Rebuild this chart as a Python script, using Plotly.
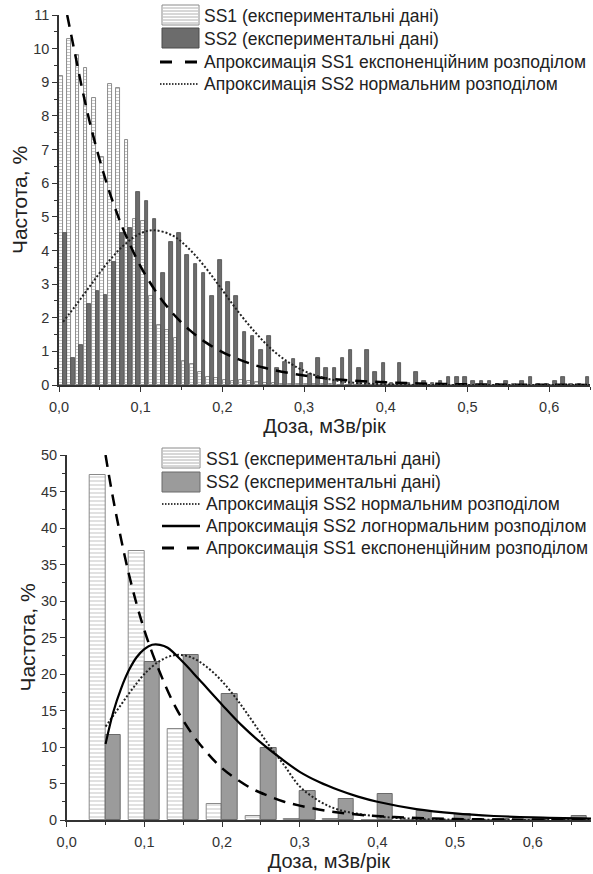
import plotly.graph_objects as go

# ---------------- TOP CHART DATA ----------------
top_bin_start = [round(0.01 * i, 2) for i in range(65)]
top_ss1 = [9.2, 10.3, 9.82, 9.42, 8.52, 6.78, 8.96, 8.82, 7.27, 4.93,
           4.87, 2.66, 1.78, 1.64, 1.39, 0.70, 0.61, 0.39, 0.25, 0.21,
           0.16, 0.13, 0.15, 0.11, 0.08, 0.06, 0.05, 0.04, 0.03, 0.03,
           0.02, 0.02, 0.02, 0.02, 0.01, 0.01, 0.01, 0.01, 0.01, 0.01,
           0.0, 0.0, 0.0, 0.0, 0.0, 0.0, 0.0, 0.0, 0.0, 0.0,
           0.0, 0.0, 0.0, 0.0, 0.0, 0.0, 0.0, 0.0, 0.0, 0.0,
           0.0, 0.0, 0.0, 0.0, 0.0]
top_ss2 = [4.53, 0.79, 1.19, 2.41, 2.80, 2.67, 3.66, 4.53, 4.67, 5.74,
           5.47, 4.93, 3.33, 4.26, 4.53, 3.86, 3.60, 3.34, 2.65, 3.73,
           3.07, 2.65, 1.58, 1.46, 1.05, 1.46, 0.50, 0.69, 0.77, 0.64,
           0.32, 0.79, 0.50, 0.50, 0.79, 1.05, 0.50, 1.05, 0.40, 0.64,
           0.07, 0.64, 0.05, 0.39, 0.12, 0.05, 0.12, 0.25, 0.25, 0.25,
           0.12, 0.12, 0.12, 0.03, 0.12, 0.03, 0.12, 0.25, 0.03, 0.03,
           0.12, 0.25, 0.03, 0.03, 0.25]

top_exp_x = [0.01, 0.02, 0.03, 0.04, 0.05, 0.06, 0.07, 0.08, 0.10, 0.12,
             0.14, 0.16, 0.18, 0.20, 0.22, 0.25, 0.30, 0.35, 0.40, 0.45,
             0.50, 0.55, 0.60, 0.65]
top_exp_y = [11.0, 9.8, 8.62, 7.58, 6.68, 5.87, 5.17, 4.55, 3.52, 2.73,
             2.11, 1.63, 1.26, 0.98, 0.76, 0.52, 0.28, 0.15, 0.08, 0.04,
             0.02, 0.01, 0.01, 0.0]

top_norm_x = [0.005, 0.02, 0.04, 0.06, 0.08, 0.10, 0.117, 0.14, 0.16, 0.18,
              0.20, 0.22, 0.24, 0.26, 0.28, 0.30, 0.32, 0.34, 0.36, 0.40,
              0.45, 0.50, 0.55, 0.60, 0.65]
top_norm_y = [1.88, 2.35, 3.01, 3.65, 4.17, 4.51, 4.60, 4.43, 4.03, 3.47,
              2.82, 2.16, 1.57, 1.07, 0.69, 0.42, 0.24, 0.13, 0.07, 0.02,
              0.0, 0.0, 0.0, 0.0, 0.0]

# ---------------- BOTTOM CHART DATA ----------------
bot_bin_center = [0.05, 0.10, 0.15, 0.20, 0.25, 0.30, 0.35, 0.40, 0.45, 0.50,
                  0.55, 0.60, 0.65]
bot_ss1 = [47.3, 36.8, 12.4, 2.2, 0.55, 0.2, 0.1, 0.0, 0.0, 0.0, 0.0, 0.0, 0.0]
bot_ss2 = [11.7, 21.7, 22.6, 17.2, 9.8, 4.0, 2.9, 3.6, 1.25, 0.8, 0.1, 0.15, 0.55]

bot_norm_x = [0.05, 0.06, 0.07, 0.08, 0.09, 0.10, 0.12, 0.14, 0.16, 0.18,
              0.20, 0.22, 0.24, 0.26, 0.28, 0.30, 0.325, 0.35, 0.40, 0.45,
              0.50, 0.60, 0.675]
bot_norm_y = [12.8, 14.3, 15.8, 17.3, 18.7, 20.0, 21.8, 22.6, 22.3, 21.0,
              19.0, 16.4, 13.4, 10.3, 7.5, 4.6, 2.6, 1.4, 0.5, 0.15,
              0.05, 0.0, 0.0]

bot_logn_x = [0.05, 0.06, 0.07, 0.08, 0.09, 0.10, 0.11, 0.12, 0.13, 0.15,
              0.17, 0.20, 0.225, 0.25, 0.275, 0.30, 0.325, 0.35, 0.375, 0.40,
              0.45, 0.50, 0.55, 0.60, 0.675]
bot_logn_y = [10.4, 14.8, 18.0, 20.5, 22.3, 23.4, 24.0, 24.0, 23.6, 21.6,
              19.3, 15.8, 13.0, 10.6, 8.5, 6.6, 5.2, 4.1, 3.2, 2.5,
              1.5, 0.9, 0.55, 0.35, 0.2]

bot_exp_x = [0.05, 0.06, 0.08, 0.10, 0.12, 0.14, 0.16, 0.18, 0.20, 0.22,
             0.24, 0.26, 0.28, 0.30, 0.34, 0.38, 0.42, 0.46, 0.50, 0.55,
             0.60, 0.675]
bot_exp_y = [50.0, 43.9, 33.7, 26.0, 20.2, 15.5, 12.0, 9.3, 7.1, 5.5,
             4.2, 3.3, 2.5, 1.97, 1.16, 0.69, 0.41, 0.24, 0.14, 0.07,
             0.04, 0.02]

labels_top = ["SS1 (експериментальні дані)", "SS2 (експериментальні дані)",
              "Апроксимація SS1 експоненційним розподілом",
              "Апроксимація SS2 нормальним розподілом"]
labels_bot = ["SS1 (експериментальні дані)", "SS2 (експериментальні дані)",
              "Апроксимація SS2 нормальним розподілом",
              "Апроксимація SS2 логнормальним розподілом",
              "Апроксимація SS1 експоненційним розподілом"]

W, H = 593, 874
FONT = "Liberation Sans, Arial, sans-serif"

HATCH_FILL = dict(shape="-", fgcolor="#8f8f8f", bgcolor="white", size=3, solidity=0.35)
SS2_TOP_COLOR, SS2_TOP_EDGE = "#6c6c6c", "#4a4a4a"
SS2_BOT_COLOR, SS2_BOT_EDGE = "#9b9b9b", "#6a6a6a"
DASH = "12px,8px"
DOT = "2px,2px"

fig = go.Figure()

top_centers = [b + 0.005 for b in top_bin_start]

fig.add_trace(go.Bar(
    x=top_centers, y=top_ss1, offset=-0.0047, width=0.0044,
    marker=dict(color="white", line=dict(color="#808080", width=0.9), pattern=HATCH_FILL),
    name=labels_top[0], xaxis="x", yaxis="y", showlegend=False))
fig.add_trace(go.Bar(
    x=top_centers, y=top_ss2, offset=-0.0002, width=0.0044,
    marker=dict(color=SS2_TOP_COLOR, line=dict(color=SS2_TOP_EDGE, width=0.8)),
    name=labels_top[1], xaxis="x", yaxis="y", showlegend=False))
fig.add_trace(go.Scatter(
    x=top_exp_x, y=top_exp_y, mode="lines", line=dict(color="black", width=2.5, dash=DASH, shape="spline"),
    name=labels_top[2], xaxis="x", yaxis="y", showlegend=False))
fig.add_trace(go.Scatter(
    x=top_norm_x, y=top_norm_y, mode="lines", line=dict(color="#222", width=2, dash=DOT, shape="spline"),
    name=labels_top[3], xaxis="x", yaxis="y", showlegend=False))

fig.add_trace(go.Bar(
    x=bot_bin_center, y=bot_ss1, offset=-0.02, width=0.02,
    marker=dict(color="white", line=dict(color="#8a8a8a", width=1),
                pattern=dict(shape="-", fgcolor="#9a9a9a", bgcolor="white", size=4, solidity=0.3)),
    name=labels_bot[0], xaxis="x2", yaxis="y2", showlegend=False))
fig.add_trace(go.Bar(
    x=bot_bin_center, y=bot_ss2, offset=0.0, width=0.02,
    marker=dict(color=SS2_BOT_COLOR, line=dict(color=SS2_BOT_EDGE, width=1)),
    name=labels_bot[1], xaxis="x2", yaxis="y2", showlegend=False))
fig.add_trace(go.Scatter(
    x=bot_norm_x, y=bot_norm_y, mode="lines", line=dict(color="#222", width=2, dash=DOT, shape="spline"),
    name=labels_bot[2], xaxis="x2", yaxis="y2", showlegend=False))
fig.add_trace(go.Scatter(
    x=bot_logn_x, y=bot_logn_y, mode="lines", line=dict(color="black", width=2.2, shape="spline"),
    name=labels_bot[3], xaxis="x2", yaxis="y2", showlegend=False))
fig.add_trace(go.Scatter(
    x=bot_exp_x, y=bot_exp_y, mode="lines", line=dict(color="black", width=2.5, dash=DASH, shape="spline"),
    name=labels_bot[4], xaxis="x2", yaxis="y2", showlegend=False))

def px_x(p):
    return p / W

def px_y(p):
    return 1 - p / H

# ---------------- manual legends (paper coordinates) ----------------
shapes = []
annotations = []
LEG_FONT = dict(family=FONT, size=17.5, color="#222")

def legend_box(x0, x1, yc, kind, fill=None, edge=None):
    y0, y1 = yc - 10, yc + 10
    if kind == "hatch":
        shapes.append(dict(type="rect", xref="paper", yref="paper",
                           x0=px_x(x0), x1=px_x(x1), y0=px_y(y1), y1=px_y(y0),
                           fillcolor="white", line=dict(color="#8a8a8a", width=1)))
        yy = y0 + 3
        while yy < y1 - 1:
            shapes.append(dict(type="line", xref="paper", yref="paper",
                               x0=px_x(x0 + 1), x1=px_x(x1 - 1), y0=px_y(yy), y1=px_y(yy),
                               line=dict(color="#b0b0b0", width=1)))
            yy += 3
    else:
        shapes.append(dict(type="rect", xref="paper", yref="paper",
                           x0=px_x(x0), x1=px_x(x1), y0=px_y(y1), y1=px_y(y0),
                           fillcolor=fill, line=dict(color=edge, width=1)))

def legend_line(x0, x1, yc, dash, width):
    shapes.append(dict(type="line", xref="paper", yref="paper",
                       x0=px_x(x0), x1=px_x(x1), y0=px_y(yc), y1=px_y(yc),
                       line=dict(color="black", width=width, dash=dash)))

def legend_text(x, yc, text):
    annotations.append(dict(xref="paper", yref="paper", x=px_x(x), y=px_y(yc),
                            xanchor="left", yanchor="middle", showarrow=False,
                            text=text, font=LEG_FONT))

# top legend
legend_box(162, 199, 15, "hatch")
legend_text(202, 16, labels_top[0])
legend_box(162, 199, 38, "solid", SS2_TOP_COLOR, SS2_TOP_EDGE)
legend_text(202, 39, labels_top[1])
legend_line(160, 198, 62, "12px,13px", 3)
legend_text(202, 62, labels_top[2])
legend_line(160, 198, 84, "1.5px,1.5px", 1.6)
legend_text(202, 84, labels_top[3])

# bottom legend
legend_box(162, 200, 458, "hatch")
legend_text(204, 459, labels_bot[0])
legend_box(162, 200, 482, "solid", SS2_BOT_COLOR, SS2_BOT_EDGE)
legend_text(204, 482, labels_bot[1])
legend_line(162, 200, 504, "1.5px,1.5px", 1.6)
legend_text(204, 504, labels_bot[2])
legend_line(162, 200, 526, "solid", 2.5)
legend_text(204, 526, labels_bot[3])
legend_line(162, 200, 548, "12px,13px", 3)
legend_text(204, 548, labels_bot[4])

axis_common = dict(showline=True, linecolor="#333", linewidth=1.5, showgrid=False, zeroline=False,
                   ticks="outside", ticklen=5, tickwidth=1.3, tickcolor="#333",
                   tickfont=dict(family=FONT, size=14.5, color="#333"), automargin=False)
xtitle_font = dict(family=FONT, size=20, color="#222")
ytitle_font = dict(family=FONT, size=21, color="#222")

fig.update_layout(
    width=W, height=H, margin=dict(l=0, r=0, t=0, b=0),
    paper_bgcolor="white", plot_bgcolor="white",
    separators=", ", barmode="overlay", bargap=0,
    font=dict(family=FONT), showlegend=False,
    shapes=shapes, annotations=annotations,
    xaxis=dict(domain=[px_x(59), px_x(590)], range=[0, 0.65], dtick=0.1, tickformat=".1f",
               minor=dict(ticks="outside", ticklen=3, dtick=0.05, tickcolor="#333"),
               title=dict(text="Доза, мЗв/рік", font=xtitle_font, standoff=2),
               ticklabelstandoff=3, anchor="y", **axis_common),
    yaxis=dict(domain=[px_y(385), px_y(15)], range=[0, 11], dtick=1,
               minor=dict(ticks="outside", ticklen=3, dtick=0.5, tickcolor="#333"),
               title=dict(text="Частота, %", font=ytitle_font, standoff=0),
               anchor="x", **axis_common),
    xaxis2=dict(domain=[px_x(66.7), px_x(591)], range=[0, 0.675], dtick=0.1, tickformat=".1f",
                minor=dict(ticks="outside", ticklen=3, dtick=0.05, tickcolor="#333"),
                title=dict(text="Доза, мЗв/рік", font=xtitle_font, standoff=2),
                ticklabelstandoff=3, anchor="y2", **axis_common),
    yaxis2=dict(domain=[px_y(820), px_y(455)], range=[0, 50], dtick=5,
                minor=dict(ticks="outside", ticklen=3, dtick=2.5, tickcolor="#333"),
                title=dict(text="Частота, %", font=ytitle_font, standoff=0),
                anchor="x2", **axis_common),
)

fig.write_html("out.html")
